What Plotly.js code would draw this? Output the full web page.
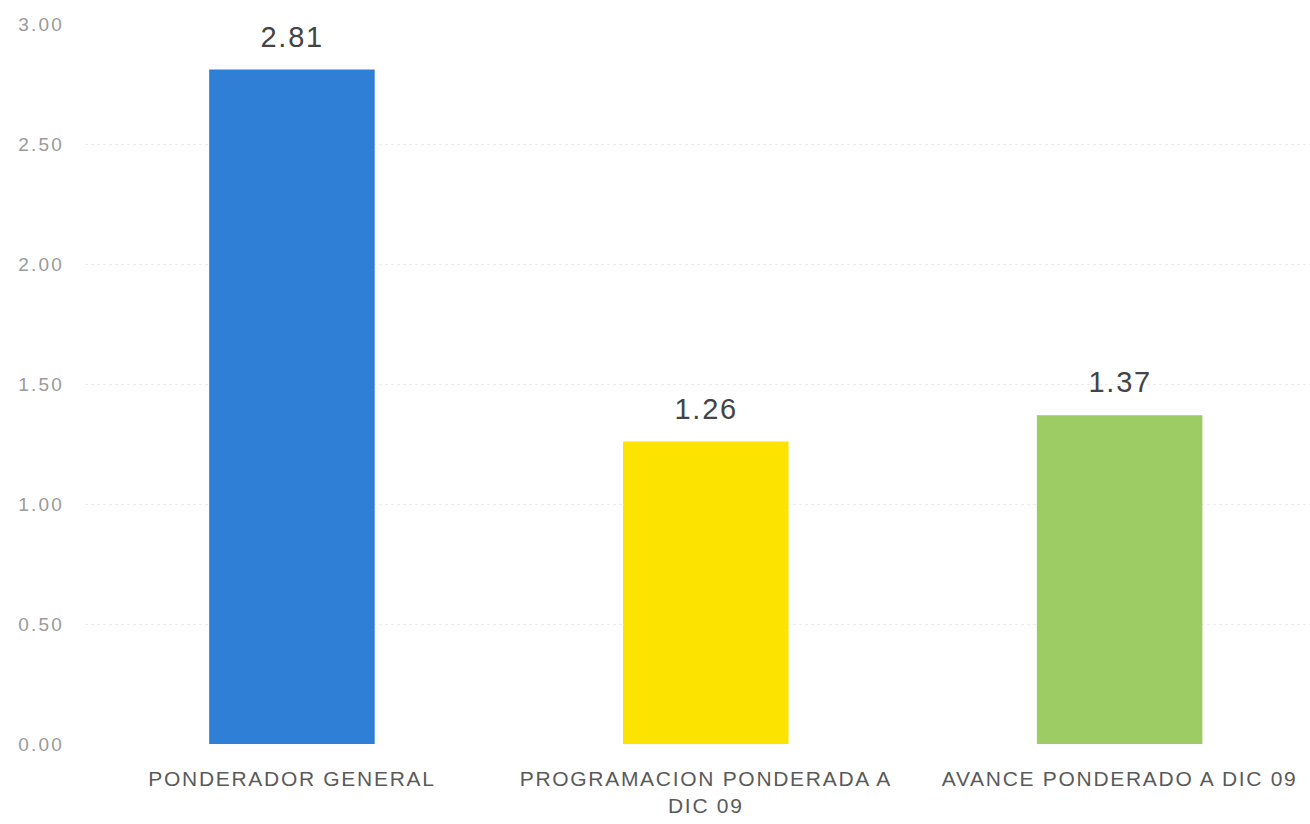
<!DOCTYPE html>
<html>
<head>
<meta charset="utf-8">
<script src="https://cdn.plot.ly/plotly-3.0.1.min.js"></script>
<style>
html,body{margin:0;padding:0;background:#fff;}
#chart{width:1310px;height:824px;}
#chart .xtick text{letter-spacing:1.7px;}
#chart .ytick text{letter-spacing:2.2px;}
#chart .annotation-text{letter-spacing:1.8px;}
</style>
</head>
<body>
<div id="chart"></div>
<script>
const categories = ["PONDERADOR GENERAL", "PROGRAMACION PONDERADA A<br>DIC 09", "AVANCE PONDERADO A DIC 09"];
const values = [2.81, 1.26, 1.37];
const barColors = ["#2f7fd6", "#fde300", "#9dcb64"];
const yTicks = [0, 0.5, 1, 1.5, 2, 2.5, 3];
const yTickLabels = ["0.00", "0.50", "1.00", "1.50", "2.00", "2.50", "3.00"];

const trace = {
  type: "bar",
  x: categories,
  y: values,
  marker: {color: barColors},
  width: 0.4,
  hoverinfo: "none"
};

const annotations = categories.map((c, i) => ({
  x: c, y: values[i], xref: "x", yref: "y",
  text: values[i].toFixed(2),
  showarrow: false, yanchor: "bottom", yshift: 15,
  font: {family: "Liberation Sans, Arial, sans-serif", size: 29, color: "#444"}
}));

const layout = {
  width: 1310, height: 824,
  margin: {l: 85, r: 0, t: 24, b: 80},
  paper_bgcolor: "#fff", plot_bgcolor: "#fff",
  showlegend: false,
  font: {family: "Liberation Sans, Arial, sans-serif"},
  xaxis: {
    type: "category",
    range: [-0.5, 2.46],
    showgrid: false, zeroline: false, showline: false, ticks: "",
    tickfont: {size: 21, color: "#5a5a5a"},
    ticklabelstandoff: 20
  },
  yaxis: {
    range: [0, 3],
    tickvals: yTicks, ticktext: yTickLabels,
    showgrid: true, gridcolor: "#ececec", griddash: "dot", gridwidth: 1,
    zeroline: false, showline: false, ticks: "",
    tickfont: {size: 19, color: "#9a9a9a"},
    ticklabelstandoff: 20
  },
  annotations: annotations
};

Plotly.newPlot("chart", [trace], layout, {displayModeBar: false, staticPlot: true});
</script>
</body>
</html>
